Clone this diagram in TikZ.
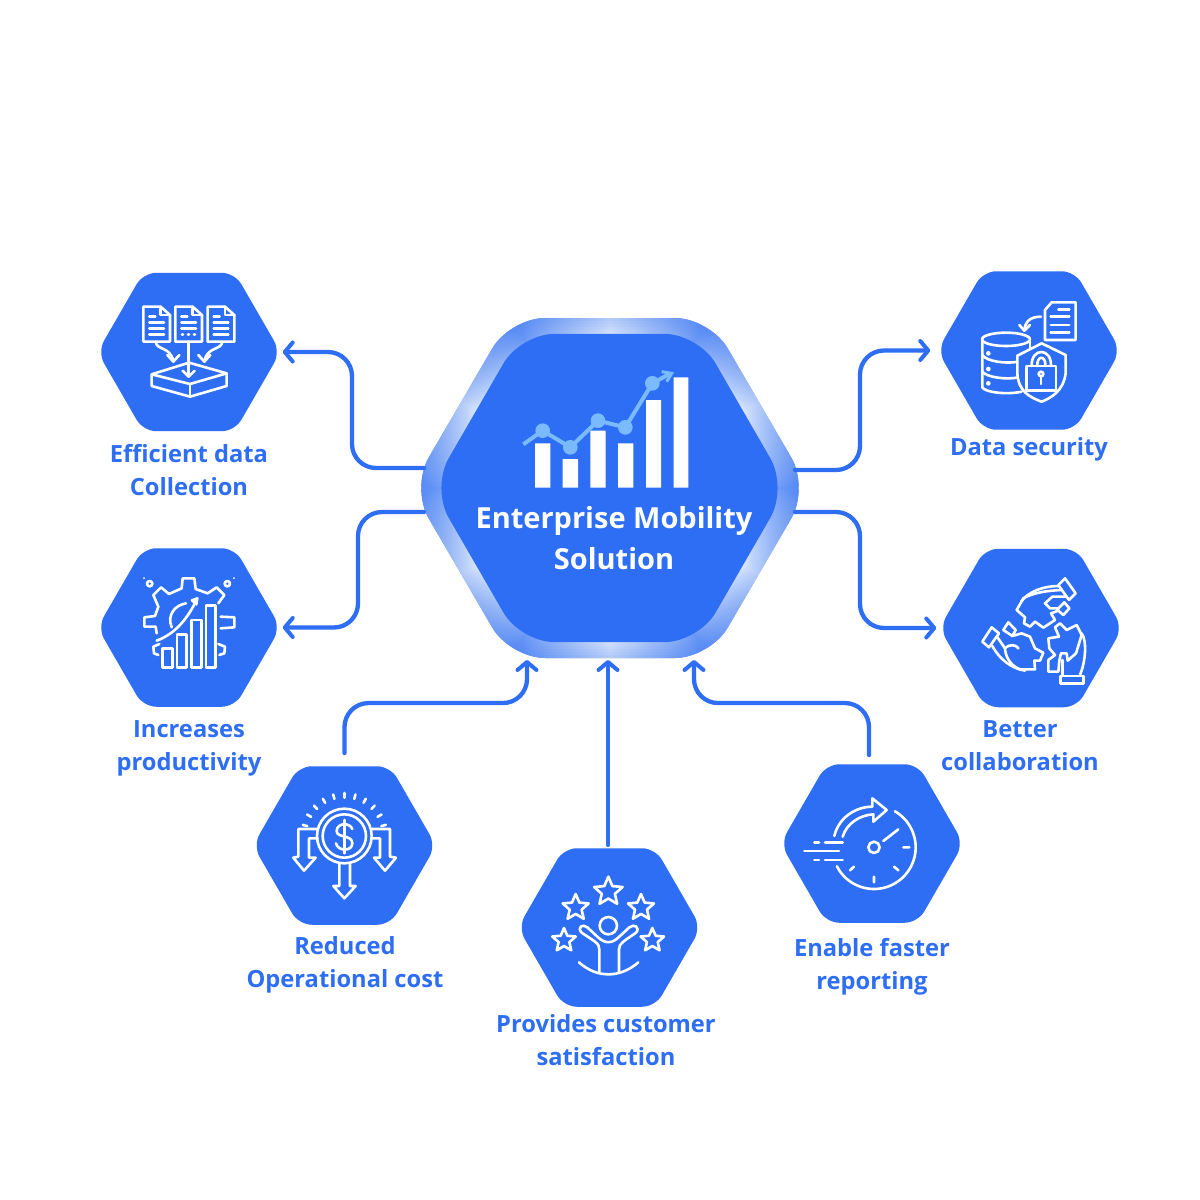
\documentclass[tikz,border=0pt]{standalone}
\usepackage{fontspec}
\setmainfont{Open Sans}
\usetikzlibrary{shapes.geometric,arrows.meta,calc}
\definecolor{mainblue}{HTML}{2D6EF5}
\definecolor{ringdark}{HTML}{6A98F6}
\definecolor{ringlight}{HTML}{DCE8FE}
\definecolor{linecol}{HTML}{7ABBFF}
\pgfdeclarehorizontalshading{ringsh}{100bp}{color(0bp)=(ringdark); color(28bp)=(ringdark); color(50bp)=(ringlight); color(72bp)=(ringdark); color(100bp)=(ringdark)}
\tikzset{
  hexa/.style={regular polygon,regular polygon sides=6,minimum size=183pt,inner sep=0pt,fill=mainblue,rounded corners=13pt},
  conn/.style={draw=mainblue,line width=4.3pt,rounded corners=24pt,line cap=round,-{Straight Barb[length=8pt,width=19pt,line width=4pt,round]}},
  lab/.style={text=mainblue,font=\fontsize{23.7}{33}\selectfont\bfseries,align=center,inner sep=0pt},
  ic/.style={draw=white,line width=2.6pt,line join=round,line cap=round},
  zoomed/.style={shift={(#1)},x=0.33333pt,y=-0.33333pt},
  ringpath/.style={rounded corners=35pt}
}
\newcommand\zstar[3]{\draw[ic] plot[samples at={0,1,...,9},variable=\k] ({#1+(#3)*(mod(\k,2)==0?1:0.46)*sin(36*\k)},{#2-(#3)*(mod(\k,2)==0?1:0.46)*cos(36*\k)}) -- cycle;}
\newcommand\zdoc[3]{%
  \draw[ic] (#1,#2)++(0,0) -- ++(52,0) -- ++(28,25) -- ++(0,80) -- ++(-80,0) -- cycle;
  \draw[ic] (#1,#2)++(52,0) -- ++(0,25) -- ++(28,0);
  \draw[ic] (#1,#2)++(18,30) -- ++(18,0);
  \draw[ic] (#1,#2)++(18,48) -- ++(44,0);
  \draw[ic] (#1,#2)++(18,65) -- ++(44,0);
  #3}
\begin{document}
\begin{tikzpicture}[x=1pt,y=-1pt]
\useasboundingbox (0,0) rectangle (1200,1200);
\fill[white] (0,0) rectangle (1200,1200);
% ring
\path[fill=ringdark,ringpath] (411,488)--(510,318)--(710,318)--(809,488)--(710,658)--(510,658)--cycle;
\begin{scope}
\clip[ringpath] (411,488)--(510,318)--(710,318)--(809,488)--(710,658)--(510,658)--cycle;
\foreach \a in {0,60,...,300}{
  \begin{scope}[transform canvas={shift={(610,488)},rotate=\a}]
    \path[shading=ringsh] (-100,-175)--(100,-175)--(0,0)--cycle;
  \end{scope}
}
\foreach \w in {36,30,24,18,12,6}{
  \draw[mainblue,opacity=0.04,line width=\w pt,ringpath] (411,488)--(510,318)--(710,318)--(809,488)--(710,658)--(510,658)--cycle;
}
\end{scope}
% main nodes
\node[regular polygon,regular polygon sides=6,minimum size=356pt,inner sep=0pt,fill=mainblue,rounded corners=34pt] (hub) at (609.5,488) {};
\coordinate (hubA) at (424,468);
\coordinate (hubB) at (424,512);
\coordinate (hubC) at (795,470);
\coordinate (hubD) at (795,512);
\coordinate (hubE) at (527,660);
\coordinate (hubF) at (608,660);
\coordinate (hubG) at (694,660);
\node[hexa] (eff) at (189,352) {};
\node[hexa] (inc) at (189,627.5) {};
\node[hexa] (sec) at (1029,350.5) {};
\node[hexa] (col) at (1031,628) {};
\node[hexa] (red) at (344.5,845.5) {};
\node[hexa] (cus) at (609.5,927.5) {};
\node[hexa] (fas) at (872,843.5) {};
% connectors
\draw[conn,shorten >=2pt] (hubA) -- ++(-72,0) |- (eff.east);
\draw[conn,shorten >=2pt] (hubB) -- ++(-66,0) |- (inc.east);
\draw[conn,shorten >=7pt] (hubC) -- ++(65,0) |- (sec.west);
\draw[conn,shorten >=3pt] (hubD) -- ++(65,0) |- (col.west);
\draw[conn,shorten <=13pt] (red.north) -- ++(0,-63) -| (hubE);
\draw[conn,shorten <=3pt] (cus.north -| hubF) -- (hubF);
\draw[conn,shorten <=9pt] (fas.north -| 869,0) -- ++(0,-61) -| (hubG);
% labels
\node[lab] (leff) at (189,470) {Efficient data\\Collection};
\node[lab] (lsec) at (1029,449) {Data security};
\node[lab] (linc) at (189,748) {Increases\\productivity};
\node[lab] (lcol) at (1020,746) {Better\\collaboration};
\node[lab] (lred) at (345,965) {Reduced\\Operational cost};
\node[lab] (lcus) at (606,1040) {Provides customer\\satisfaction};
\node[lab] (lfas) at (872,967) {Enable faster\\reporting};
\node[text=white,font=\fontsize{29}{41}\selectfont\bfseries,align=center,inner sep=0pt] (hubtext) at (614,538) {Enterprise Mobility\\Solution};
% hub icon
\begin{scope}[zoomed={410,310}]
\fill[white] (375,400) rectangle (421,533) (458,447) rectangle (504,533) (541,362) rectangle (587,533) (624,400) rectangle (670,533) (708,270) rectangle (753,533) (791,202) rectangle (835,533);
\draw[linecol,line width=4pt] (340,403)--(398,362)--(481,412)--(564,332)--(646,352)--(727,220)--(778,192);
\draw[linecol,line width=3pt] (755,185)--(785,190)--(770,215);
\fill[linecol] (398,362) circle[radius=22] (481,412) circle[radius=22] (564,332) circle[radius=22] (646,352) circle[radius=22] (727,220) circle[radius=22];
\end{scope}
% icon: efficient data
\begin{scope}[zoomed={90,260}]
\zdoc{160}{140}{\draw[ic] (178,224)--(222,224);}
\zdoc{256}{140}{\draw[ic,dash pattern=on 1pt off 5pt] (276,224)--(320,224);}
\zdoc{353}{140}{\draw[ic] (371,224)--(415,224);}
\draw[ic] (197,245) .. controls (200,272) and (240,258) .. (250,303);
\draw[ic] (232,285)--(250,305)--(268,285);
\draw[ic] (397,245) .. controls (394,272) and (353,258) .. (343,303);
\draw[ic] (325,285)--(343,305)--(361,285);
\draw[ic] (296,245)--(296,350);
\draw[ic] (278,332)--(296,350)--(314,332);
\draw[ic] (185,343)--(297,308)--(410,340)--(300,372)--cycle;
\draw[ic] (185,343)--(185,378)--(300,410)--(410,378)--(410,340);
\draw[ic] (300,372)--(300,410);
\end{scope}
% icon: productivity
\begin{scope}[zoomed={90,540}]
\draw[ic] (205,345)--(192,340)--(190,320)--(208,312);
\draw[ic] (200,280)--(197,260)--(163,260)--(163,232)--(195,228)--(205,200)--(190,165)--(213,142)--(237,162)--(275,145)--(278,115)--(313,115)--(317,147)--(353,160)--(380,142)--(403,165)--(385,190);
\draw[ic] (392,230)--(433,232)--(433,262)--(392,265);
\draw[ic] (388,345)--(403,340)--(405,320)--(385,312);
\draw[ic] (245,262) .. controls (230,225) and (255,195) .. (288,190);
\draw[ic] (200,302) .. controls (260,280) and (295,230) .. (320,180);
\draw[ic,fill=white] (306,181)--(322,175)--(319,193)--cycle;
\draw[ic,fill=mainblue] (217,325) rectangle (247,383) (261,283) rectangle (290,383) (305,240) rectangle (334,383) (348,197) rectangle (377,383);
\draw[ic] (179,131) circle[radius=8] (412,131) circle[radius=8];
\fill[white] (162,114) circle[radius=3] (432,114) circle[radius=3];
\end{scope}
% icon: data security
\begin{scope}[zoomed={930,260}]
\draw[ic] (345,150)--(365,127)--(437,127)--(437,240)--(345,240)--cycle;
\draw[ic] (385,148)--(418,148) (362,170)--(418,170) (362,195)--(418,195) (362,218)--(418,218);
\draw[ic] (333,170) .. controls (300,170) and (285,185) .. (283,212);
\draw[ic] (268,195)--(283,212)--(300,195);
\draw[ic] (228,238) ellipse[x radius=72,y radius=20];
\draw[ic] (157,238)--(157,382) .. controls (165,397) and (230,405) .. (275,395);
\draw[ic] (157,285) .. controls (170,305) and (230,312) .. (265,305);
\draw[ic] (157,335) .. controls (170,352) and (230,360) .. (265,352);
\draw[ic] (300,238)--(300,265);
\fill[white] (175,280) circle[radius=7] (175,327) circle[radius=7] (175,370) circle[radius=7];
\draw[ic,fill=mainblue] (262,287)--(335,250)--(407,285)--(407,340) .. controls (400,395) and (360,415) .. (335,425) .. controls (300,412) and (265,395) .. (262,340) -- cycle;
\draw[ic] (290,318) rectangle (378,392);
\draw[ic] (305,318) .. controls (303,262) and (365,262) .. (363,318);
\draw[ic] (322,318) .. controls (320,285) and (348,285) .. (346,318);
\draw[ic] (333,342) circle[radius=7];
\draw[ic] (333,349)--(333,372);
\end{scope}
% icon: collaboration
\begin{scope}[zoomed={975,570}]
\draw[ic] (250,45)--(270,25)--(302,70)--(282,90)--cycle;
\draw[ic] (250,48) .. controls (205,48) and (160,65) .. (138,95);
\draw[ic] (125,120)--(145,85) .. controls (175,68) and (215,62) .. (260,60);
\draw[ic] (275,80)--(232,80)--(210,100)--(225,115)--(250,115)--(268,97)--(283,115)--(265,135)--(250,122)--(228,130)--(240,150)--(205,173)--(180,155)--(165,170)--(147,160)--(150,142)--(125,120);
\draw[ic] (22,215)--(50,172)--(72,190)--(42,232)--cycle;
\draw[ic] (52,228) .. controls (75,270) and (110,295) .. (150,302);
\draw[ic] (66,200)--(90,235);
\draw[ic] (85,180)--(100,157)--(122,180)--(112,198)--(140,190)--(165,200)--(180,235)--(205,248)--(195,272)--(178,272)--(180,298)--(135,298) .. controls (100,285) and (90,250) .. (90,235) .. controls (105,220) and (125,225) .. (130,235);
\draw[ic] (85,180)--(112,198);
\draw[ic] (240,172)--(255,160)--(275,180)--(305,165)--(320,195)--(303,250)--(278,272)--(275,250)--(258,250)--(253,272)--(250,305)--(220,305)--(220,270)--(240,255)--(223,235)--(220,205)--(252,200)--cycle;
\draw[ic] (320,190) .. controls (338,215) and (330,280) .. (315,315);
\draw[ic] (262,318)--(262,270);
\draw[ic] (257,318) rectangle (325,340);
\end{scope}
% icon: reduced cost
\begin{scope}[zoomed={245,755}]
\draw[ic] (298,243) circle[radius=82] (298,243) circle[radius=65];
\draw[ic] (298,195)--(298,295);
\draw[ic] (322,222) .. controls (315,202) and (276,202) .. (275,228) .. controls (275,250) and (322,238) .. (322,265) .. controls (322,290) and (278,290) .. (273,265);
\foreach \k in {-5,...,5}{
  \draw[ic] ({298+115*sin(15*\k)},{243-115*cos(15*\k)})--({298+129*sin(15*\k)},{243-129*cos(15*\k)});
}
\draw[ic] (217,222)--(160,222)--(160,305)--(145,308)--(177,347)--(212,308)--(192,308)--(192,250)--(218,250);
\draw[ic] (380,222)--(435,222)--(435,305)--(453,308)--(420,347)--(387,308)--(405,308)--(405,250)--(382,250);
\draw[ic] (283,328)--(283,393)--(265,393)--(298,430)--(332,393)--(315,393)--(315,328);
\end{scope}
% icon: customer
\begin{scope}[zoomed={510,840}]
\zstar{295}{155}{45}
\zstar{197}{203}{41}
\zstar{393}{203}{41}
\zstar{162}{301}{37}
\zstar{427}{301}{37}
\draw[ic] (295,257) circle[radius=26];
\draw[ic] (268,395)--(268,328) .. controls (268,310) and (255,305) .. (215,278) .. controls (200,262) and (218,250) .. (232,262) -- (262,290) .. controls (285,312) and (305,312) .. (328,290) -- (358,262) .. controls (372,250) and (392,262) .. (378,278) .. controls (340,305) and (327,310) .. (327,328)--(327,395);
\draw[ic] (207,367) .. controls (260,415) and (330,415) .. (385,367);
\end{scope}
% icon: faster
\begin{scope}[zoomed={775,755}]
\draw[ic] (297,277) circle[radius=17];
\draw[ic] plot[domain=-60:153,samples=50] ({297+125*cos(\x)},{277+125*sin(\x)});
\draw[ic] (325,258)--(370,223) (385,277)--(403,277) (357,335)--(370,346) (297,365)--(297,382) (237,335)--(225,346);
\draw[ic] (118,262)--(132,262) (150,262)--(203,262) (88,288)--(192,288) (118,315)--(132,315) (150,315)--(203,315);
\draw[ic] (178,243) .. controls (190,190) and (240,155) .. (292,155)--(292,130)--(335,165)--(295,200)--(295,178) .. controls (255,180) and (215,205) .. (203,245);
\end{scope}
\end{tikzpicture}
\end{document}
